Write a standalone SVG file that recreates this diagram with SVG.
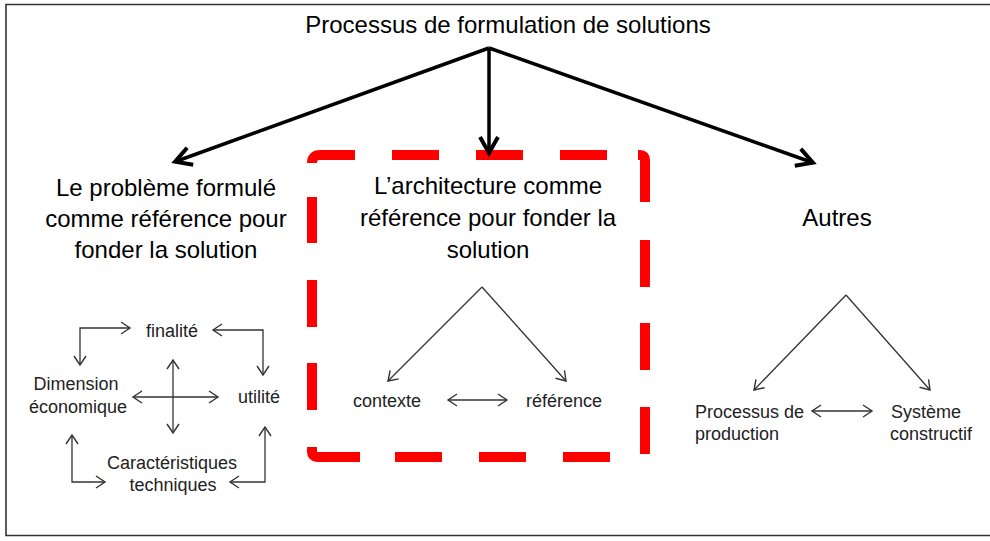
<svg xmlns="http://www.w3.org/2000/svg" width="990" height="541" viewBox="0 0 990 541">
<defs>
<style>
.h{font-family:"Liberation Sans",Arial,sans-serif;font-size:24px;fill:#000;text-anchor:middle}
.s{font-family:"Liberation Sans",Arial,sans-serif;font-size:18px;fill:#222;text-anchor:middle}
.thick{fill:none;stroke:#000;stroke-width:3.5}
.thin{fill:none;stroke:#333;stroke-width:1.3}
.red{fill:none;stroke:#ff0000;stroke-width:10;stroke-linecap:butt}
</style>
<marker id="ahb" viewBox="-20 -12 24 24" refX="-2" refY="0" markerWidth="24" markerHeight="24" markerUnits="userSpaceOnUse" orient="auto">
<path d="M-16,-9 L0,0 L-16,9" fill="none" stroke="#000" stroke-width="4"/>
</marker>
<marker id="ahs" viewBox="-12 -8 14 16" refX="0" refY="0" markerWidth="14" markerHeight="16" markerUnits="userSpaceOnUse" orient="auto-start-reverse">
<path d="M-9,-6 L0,0 L-9,6" fill="none" stroke="#333" stroke-width="1.4"/>
</marker>
</defs>
<rect width="990" height="541" fill="#fff"/>
<path d="M990,4.5 L6,4.5 L6,535.5 L990,535.5" fill="none" stroke="#333" stroke-width="1.6"/>

<g id="title"><text class="h" x="508" y="33">Processus de formulation de solutions</text></g>

<g id="problem">
<text class="h" x="166" y="196">Le problème formulé</text>
<text class="h" x="166" y="227">comme référence pour</text>
<text class="h" x="166" y="258">fonder la solution</text>
</g>

<g id="architecture">
<text class="h" x="488" y="194">L’architecture comme</text>
<text class="h" x="488" y="226">référence pour fonder la</text>
<text class="h" x="488" y="258">solution</text>
</g>

<g id="autres"><text class="h" x="837" y="226">Autres</text></g>

<g id="finalite"><text class="s" x="172" y="337">finalité</text></g>
<g id="dimension"><text class="s" x="76" y="390">Dimension</text><text class="s" x="78" y="413">économique</text></g>
<g id="utilite"><text class="s" x="259" y="403">utilité</text></g>
<g id="caracteristiques"><text class="s" x="172" y="469">Caractéristiques</text><text class="s" x="173" y="491">techniques</text></g>

<g id="contexte"><text class="s" x="387" y="407">contexte</text></g>
<g id="reference"><text class="s" x="564" y="407">référence</text></g>

<g id="production"><text class="s" x="695" y="418" style="text-anchor:start">Processus de</text><text class="s" x="695" y="440" style="text-anchor:start">production</text></g>
<g id="systeme"><text class="s" x="926" y="418">Système</text><text class="s" x="931" y="440">constructif</text></g>

<g id="highlight">
<path class="red" d="M312,163 Q312,155 320,155 L355,155"/>
<path class="red" d="M392,155 L439,155 M476,155 L523,155 M560,155 L607,155"/>
<path class="red" d="M638,155 L640,155 Q645,155 645,160 L645,202"/>
<path class="red" d="M645,240 L645,287 M645,323 L645,370 M645,407 L645,454"/>
<path class="red" d="M610,457 L563,457 M526,457 L479,457 M442,457 L395,457"/>
<path class="red" d="M360,457 L318,457 Q312,457 312,451 L312,447"/>
<path class="red" d="M312,410 L312,363 M312,327 L312,280 M312,243 L312,197"/>
</g>

<g id="connectors">
<path class="thick" d="M489,48 L177,161" marker-end="url(#ahb)"/>
<path class="thick" d="M489,48 L489,151" marker-end="url(#ahb)"/>
<path class="thick" d="M489,48 L811,162" marker-end="url(#ahb)"/>

<path class="thin" d="M130,328 L80,328 L80,365" marker-start="url(#ahs)" marker-end="url(#ahs)"/>
<path class="thin" d="M213,330 L263,330 L263,375" marker-start="url(#ahs)" marker-end="url(#ahs)"/>
<path class="thin" d="M133,397 L218,397" marker-start="url(#ahs)" marker-end="url(#ahs)"/>
<path class="thin" d="M173,360 L173,433" marker-start="url(#ahs)" marker-end="url(#ahs)"/>
<path class="thin" d="M72,435 L72,482 L105,482" marker-start="url(#ahs)" marker-end="url(#ahs)"/>
<path class="thin" d="M265,427 L265,482 L230,482" marker-start="url(#ahs)" marker-end="url(#ahs)"/>

<path class="thin" d="M482,287 L388,381" marker-end="url(#ahs)"/>
<path class="thin" d="M482,287 L566,381" marker-end="url(#ahs)"/>
<path class="thin" d="M448,400 L507,400" marker-start="url(#ahs)" marker-end="url(#ahs)"/>

<path class="thin" d="M846,295 L754,390" marker-end="url(#ahs)"/>
<path class="thin" d="M846,295 L930,390" marker-end="url(#ahs)"/>
<path class="thin" d="M812,411 L872,411" marker-start="url(#ahs)" marker-end="url(#ahs)"/>
</g>
</svg>
